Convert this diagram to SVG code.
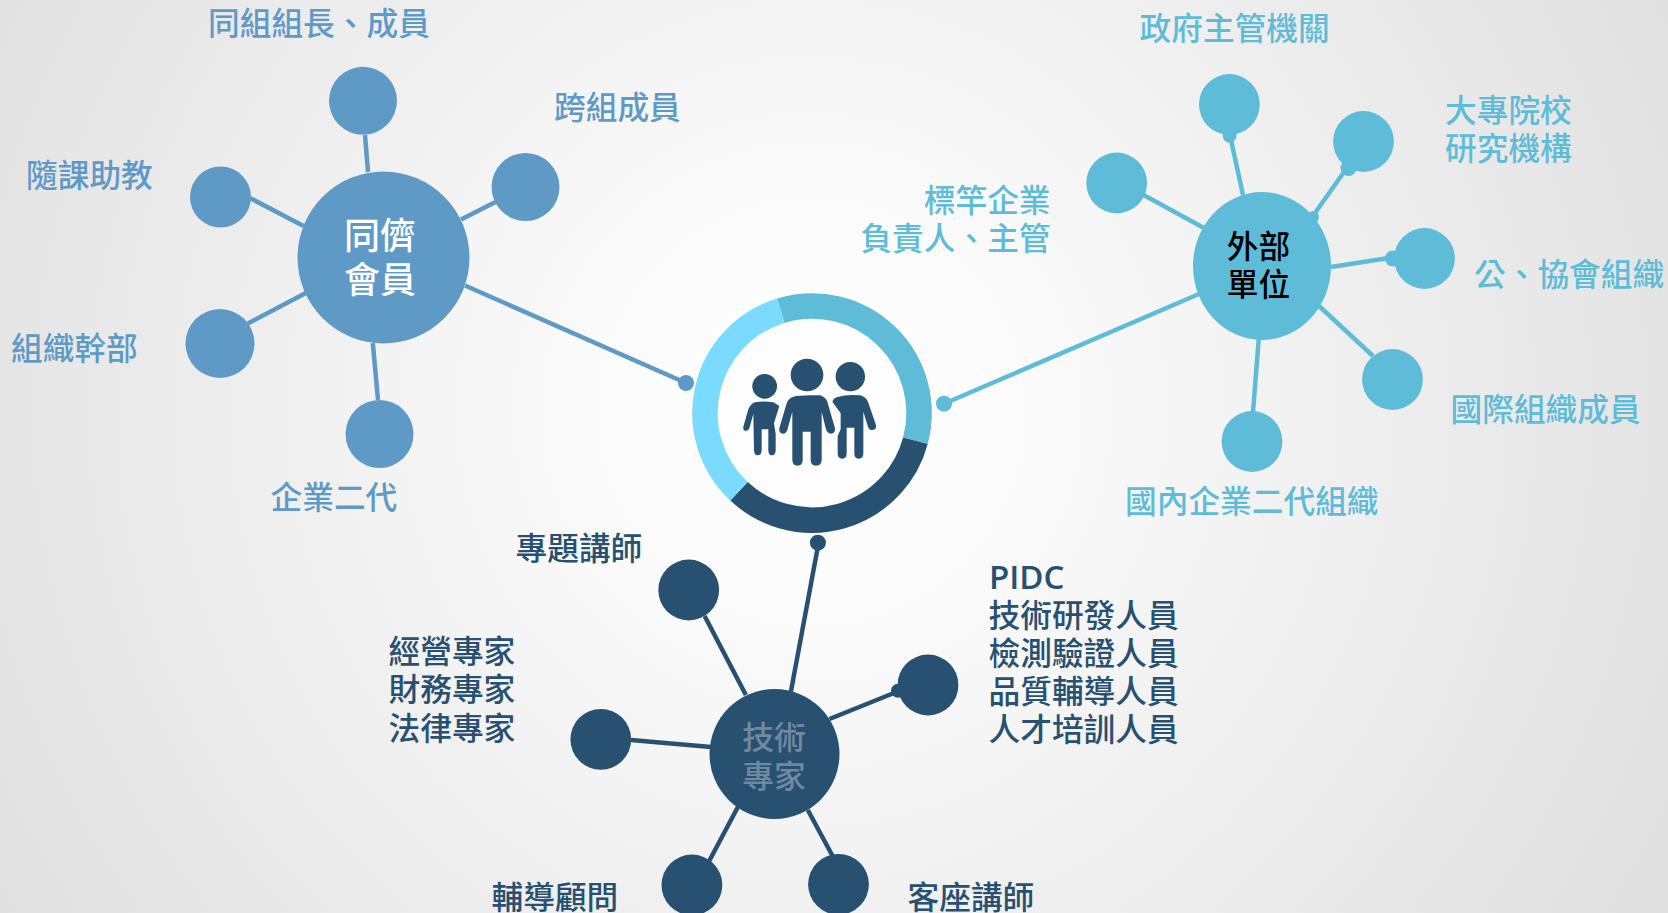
<svg xmlns="http://www.w3.org/2000/svg" width="1668" height="913" viewBox="0 0 1668 913">
<defs>
<radialGradient id="bg" gradientUnits="userSpaceOnUse" cx="812" cy="413" r="1000">
<stop offset="0" stop-color="#ffffff"/><stop offset="0.2" stop-color="#fbfbfb"/><stop offset="0.85" stop-color="#e4e4e4"/><stop offset="1" stop-color="#dedede"/>
</radialGradient>
<style>
text{font-family:"Noto Sans CJK TC","Noto Sans",sans-serif;font-size:31.7px;font-weight:500}
.a{fill:#5f9ac7}.b{fill:#5fbcd8}.c{fill:#285070}
.la{stroke:#5f9ac7}.lb{stroke:#5fbcd8}.lc{stroke:#285070}
line{stroke-width:4.5;fill:none}
.m{text-anchor:middle}.e{text-anchor:end}
.tl{fill:#5f9ac7}.tb{fill:#5fbcd8}.tc{fill:#285070}
.hub{font-size:36px}
</style>
</defs>
<rect width="1668" height="913" fill="url(#bg)"/>
<g id="connectors">
<line class="la" x1="368" y1="172" x2="365" y2="135"/>
<line class="la" x1="461" y1="219.6" x2="495.5" y2="202"/>
<line class="la" x1="303.6" y1="226" x2="250" y2="198"/>
<line class="la" x1="305.8" y1="293" x2="247.8" y2="323.6"/>
<line class="la" x1="372.8" y1="343" x2="378" y2="400"/>
<line class="la" x1="465" y1="285.5" x2="686" y2="383"/>
<line class="lb" x1="1243" y1="195" x2="1230.7" y2="138.5"/>
<line class="lb" x1="1315" y1="213" x2="1344" y2="172"/>
<line class="lb" x1="1204" y1="228" x2="1143.6" y2="195"/>
<line class="lb" x1="1331" y1="267" x2="1389" y2="258"/>
<line class="lb" x1="1319" y1="306" x2="1373" y2="356"/>
<line class="lb" x1="1258.7" y1="339.5" x2="1253" y2="412"/>
<line class="lb" x1="1199" y1="294" x2="944" y2="403.7"/>
<line class="lc" x1="790.9" y1="691.7" x2="817.9" y2="546.7"/>
<line class="lc" x1="745.9" y1="695" x2="704.6" y2="616"/>
<line class="lc" x1="829.5" y1="719" x2="894" y2="693"/>
<line class="lc" x1="711" y1="746.9" x2="631" y2="740"/>
<line class="lc" x1="738" y1="806.7" x2="708.8" y2="861.7"/>
<line class="lc" x1="807.8" y1="810" x2="833" y2="856.7"/>
<circle class="a" cx="686" cy="383" r="8"/>
<circle class="b" cx="944" cy="403.7" r="8"/>
<circle class="c" cx="817.9" cy="542.7" r="8"/>
<circle class="b" cx="1229.6" cy="135.8" r="7"/>
<circle class="b" cx="1348.5" cy="168" r="8"/>
<circle class="b" cx="1313" cy="217" r="6"/>
<circle class="b" cx="1393" cy="258.5" r="8"/>
<circle class="c" cx="898" cy="690.7" r="7"/>
</g>
<g id="center">
<circle cx="812" cy="413" r="94" fill="#fdfdfd"/>
<g fill="none" stroke-width="25.5">
<path d="M780.7 310.7A107 107 0 0 1 915.4 440.7" stroke="#5fbcd8"/>
<path d="M915.4 440.7A107 107 0 0 1 739 491.3" stroke="#285070"/>
<path d="M739 491.3A107 107 0 0 1 780.7 310.7" stroke="#7adbff"/>
</g>
<g transform="translate(660 270) scale(.33333)" class="c">
<circle cx="441" cy="315" r="49"/><circle cx="314" cy="349" r="37"/><circle cx="571" cy="320" r="44"/>
<path d="M400 380Q420 374 480 376Q495 380 502 395L525 475Q527 490 513 491Q503 491 498 478L485 425V570Q485 587 468 587Q452 587 452 570V485H428V570Q428 587 413 587Q397 587 397 570V425L382 480Q378 492 368 491Q355 488 358 475L380 400Q385 385 400 380Z"/>
<path d="M285 397Q310 392 340 397L358 408L342 460L347 492V540Q347 556 335 556Q325 556 325 540V478H305V540Q305 556 293 556Q282 556 282 540L280 432L268 475Q264 484 257 483Q248 481 250 470L265 418Q272 402 285 397Z"/>
<path d="M517 395Q520 385 530 382Q560 372 600 376Q618 380 625 398L648 465Q650 478 638 480Q628 481 624 470L610 425V550Q610 566 596 566Q583 566 583 550V473H560V550Q560 566 547 566Q533 566 533 550V498L542 478V430Z"/>
</g>
</g>
<g id="peer">
<circle class="a" cx="383.5" cy="257.5" r="86"/>
<text class="m hub" x="380" y="248.5" fill="#fff">同儕</text>
<text class="m hub" x="380" y="293" fill="#fff">會員</text>
</g>
<g id="peer-1"><circle class="a" cx="363" cy="100.8" r="34"/><text class="tl" x="208" y="35">同組組長、成員</text></g>
<g id="peer-2"><circle class="a" cx="525.5" cy="187" r="34"/><text class="tl" x="554" y="118.5">跨組成員</text></g>
<g id="peer-3"><circle class="a" cx="220.5" cy="197" r="30.5"/><text class="tl" x="26" y="186.5">隨課助教</text></g>
<g id="peer-4"><circle class="a" cx="220" cy="343.5" r="34.5"/><text class="tl" x="11" y="360">組織幹部</text></g>
<g id="peer-5"><circle class="a" cx="379.5" cy="434" r="34"/><text class="tl" x="270.5" y="509">企業二代</text></g>
<g id="external">
<ellipse class="b" cx="1262" cy="266" rx="69" ry="74"/>
<text class="m" x="1258.5" y="257.5" fill="#000">外部</text>
<text class="m" x="1258.5" y="296" fill="#000">單位</text>
</g>
<g id="external-1"><circle class="b" cx="1229.4" cy="104.5" r="30.4"/><text class="tb" x="1139.5" y="39.5">政府主管機關</text></g>
<g id="external-2"><circle class="b" cx="1363.5" cy="141.5" r="30.4"/><text class="tb" x="1445" y="122">大專院校</text><text class="tb" x="1445" y="160">研究機構</text></g>
<g id="external-3"><circle class="b" cx="1116.7" cy="183" r="30.4"/><text class="tb e" x="1050.5" y="211.5">標竿企業</text><text class="tb e" x="1050.5" y="249.5">負責人、主管</text></g>
<g id="external-4"><circle class="b" cx="1424.5" cy="258.5" r="30.4"/><text class="tb" x="1474" y="286">公、協會組織</text></g>
<g id="external-5"><circle class="b" cx="1392.5" cy="379.5" r="30.4"/><text class="tb" x="1450.5" y="421">國際組織成員</text></g>
<g id="external-6"><circle class="b" cx="1252" cy="441.5" r="30.4"/><text class="tb" x="1125" y="512.5">國內企業二代組織</text></g>
<g id="expert">
<circle class="c" cx="774.5" cy="754" r="65"/>
<text class="m" x="773.9" y="749" fill="#7089a0">技術</text>
<text class="m" x="773.9" y="787.5" fill="#7089a0">專家</text>
</g>
<g id="expert-1"><circle class="c" cx="688.7" cy="590" r="30.4"/><text class="tc" x="515.5" y="560">專題講師</text></g>
<g id="expert-2"><circle class="c" cx="928" cy="685" r="30.4"/>
<text class="tc" x="989" y="589" style="font-size:33px;font-weight:600;font-family:'Open Sans','Noto Sans',sans-serif">PIDC</text>
<text class="tc" x="988.5" y="626.5">技術研發人員</text>
<text class="tc" x="988.5" y="664.5">檢測驗證人員</text>
<text class="tc" x="988.5" y="703">品質輔導人員</text>
<text class="tc" x="988.5" y="741">人才培訓人員</text></g>
<g id="expert-3"><circle class="c" cx="600.8" cy="739.3" r="30.4"/>
<text class="tc" x="388.5" y="663">經營專家</text>
<text class="tc" x="388.5" y="701">財務專家</text>
<text class="tc" x="388.5" y="739.5">法律專家</text></g>
<g id="expert-4"><circle class="c" cx="691.9" cy="885" r="30.4"/><text class="tc" x="491.5" y="908.5">輔導顧問</text></g>
<g id="expert-5"><circle class="c" cx="838.5" cy="884.3" r="30.4"/><text class="tc" x="907.5" y="908.5">客座講師</text></g>
</svg>
